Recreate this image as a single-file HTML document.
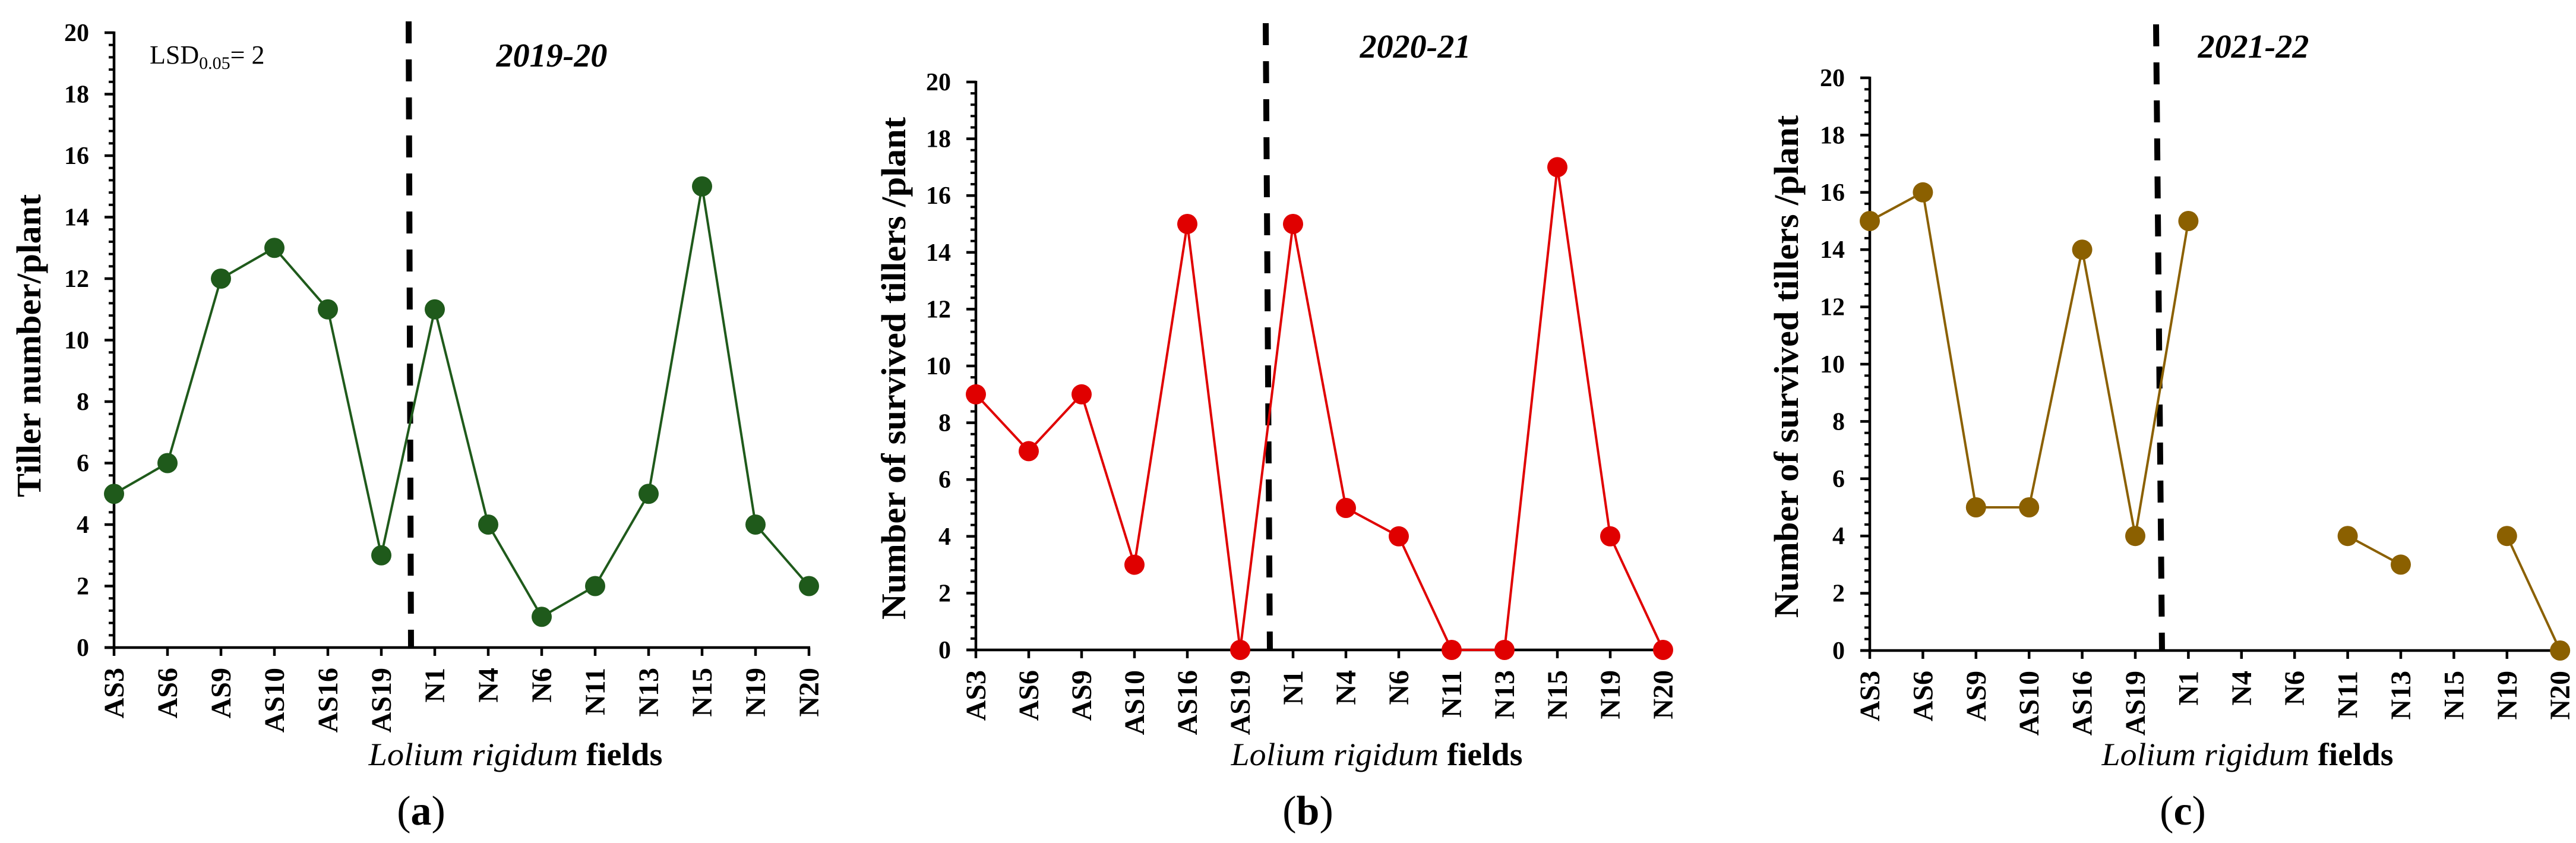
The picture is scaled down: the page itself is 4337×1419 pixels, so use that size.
<!DOCTYPE html>
<html><head><meta charset="utf-8"><style>
html,body{margin:0;padding:0;background:#fff;}
svg{display:block;font-family:"Liberation Serif",serif;}
</style></head><body>
<svg id="chart" width="4337" height="1419" viewBox="0 0 4337 1419" xmlns="http://www.w3.org/2000/svg"></svg>
<script>
const categories = ["AS3","AS6","AS9","AS10","AS16","AS19","N1","N4","N6","N11","N13","N15","N19","N20"];
const valuesA = [5,6,12,13,11,3,11,4,1,2,5,15,4,2];
const valuesB = [9,7,9,3,15,0,15,5,4,0,0,17,4,0];
const valuesC = [15,16,5,5,14,4,15,null,null,4,3,null,4,0];
const yTicks = [0,2,4,6,8,10,12,14,16,18,20];
const seasons = ["2019-20","2020-21","2021-22"];
const panelLetters = ["a","b","c"];
const yTitles = ["Tiller number/plant","Number of survived tillers /plant","Number of survived tillers /plant"];

const NS="http://www.w3.org/2000/svg";
const svg=document.getElementById('chart');
function mk(tag,attrs,parent){const e=document.createElementNS(NS,tag);for(const k in attrs)e.setAttribute(k,attrs[k]);(parent||svg).appendChild(e);return e;}

const panels=[
 {id:"a",ax:192,y0:1090,y20:55,step:90,color:"#1f5a1b",vals:valuesA,dash:[688,36,692],title:{x:929,y:112},yt:{x:48,y:582,len:510},xt:{x:868,len:495},lbl:709,lsd:true},
 {id:"b",ax:1643,y0:1094,y20:138,step:89,color:"#e00000",vals:valuesB,dash:[2131,39,2138],title:{x:2383,y:97},yt:{x:1504,y:620,len:846},xt:{x:2318,len:491},lbl:2202},
 {id:"c",ax:3148,y0:1095,y20:131,step:89.4,color:"#8b6000",vals:valuesC,dash:[3630,41,3640],title:{x:3794,y:97},yt:{x:3007,y:617,len:846},xt:{x:3784,len:491},lbl:3675}
];

panels.forEach((p,pi)=>{
  const g=mk('g',{});
  
  
  const yS=v=>p.y0-(v/20)*(p.y0-p.y20);
  const xS=i=>p.ax+i*p.step;
  const xEnd=xS(categories.length-1);
  for(let k=0;k<=50;k++){const v=k*0.4;const y=yS(v);
    const t=mk('line',{x1:p.ax-9,x2:p.ax,y1:y,y2:y,stroke:'#000','stroke-width':4},g);
    }
  yTicks.forEach(v=>{const y=yS(v);
    const t=mk('line',{x1:p.ax-16,x2:p.ax,y1:y,y2:y,stroke:'#000','stroke-width':4.5},g);
    
    const l=mk('text',{x:p.ax-42,y:y+14,'text-anchor':'end','font-size':42,'font-weight':'bold'},g);
    l.textContent=v;});
  const ya=mk('line',{x1:p.ax,x2:p.ax,y1:p.y20-2,y2:p.y0+2,stroke:'#000','stroke-width':4.5},g);
  
  const xa=mk('line',{x1:p.ax-16,x2:xEnd+2,y1:p.y0,y2:p.y0,stroke:'#000','stroke-width':4.5},g);
  
  categories.forEach((c,i)=>{const x=xS(i);
    const t=mk('line',{x1:x,x2:x,y1:p.y0,y2:p.y0+14,stroke:'#000','stroke-width':4.5},g);
    
    const l=mk('text',{x:0,y:0,'text-anchor':'end','font-size':48,'font-weight':'bold',transform:`translate(${x+16},${p.y0+34}) rotate(-90)`},g);
    l.textContent=c;});
  const d=mk('line',{x1:p.dash[0],y1:p.dash[1],x2:p.dash[2],y2:p.y0,stroke:'#000','stroke-width':10,'stroke-dasharray':'37 27'},g);
  
  for(let i=0;i<p.vals.length-1;i++){
    if(p.vals[i]==null||p.vals[i+1]==null)continue;
    const s=mk('line',{x1:xS(i),y1:yS(p.vals[i]),x2:xS(i+1),y2:yS(p.vals[i+1]),stroke:p.color,'stroke-width':4},g);
    
  }
  p.vals.forEach((v,i)=>{if(v==null)return;
    const c=mk('circle',{cx:xS(i),cy:yS(v),r:17,fill:p.color},g);
    });
  const tt=mk('text',{x:p.title.x,y:p.title.y,'text-anchor':'middle','font-size':56,'font-weight':'bold','font-style':'italic'},g);
  tt.textContent=seasons[pi];
  const yt=mk('text',{x:0,y:0,'text-anchor':'middle','font-size':58,'font-weight':'bold',textLength:p.yt.len,lengthAdjust:'spacingAndGlyphs',transform:`translate(${p.yt.x+20},${p.yt.y}) rotate(-90)`},g);
  yt.textContent=yTitles[pi];
  const xt=mk('text',{x:p.xt.x,y:1288,'text-anchor':'middle','font-size':54,textLength:p.xt.len,lengthAdjust:'spacingAndGlyphs'},g);
  
  const it=mk('tspan',{'font-style':'italic'},xt);it.textContent='Lolium rigidum';
  const bt=mk('tspan',{'font-weight':'bold'},xt);bt.textContent=' fields';
  const pl=mk('text',{x:p.lbl,y:1388,'text-anchor':'middle','font-size':70},g);
  
  mk('tspan',{},pl).textContent='(';
  mk('tspan',{'font-weight':'bold'},pl).textContent=panelLetters[pi];
  mk('tspan',{},pl).textContent=')';
  if(p.lsd){
    const ls=mk('text',{x:252,y:107,'font-size':44},g);
    
    mk('tspan',{},ls).textContent='LSD';
    mk('tspan',{'font-size':30,dy:9},ls).textContent='0.05';
    mk('tspan',{dy:-9},ls).textContent='= 2';
  }
});
</script>
</body></html>
